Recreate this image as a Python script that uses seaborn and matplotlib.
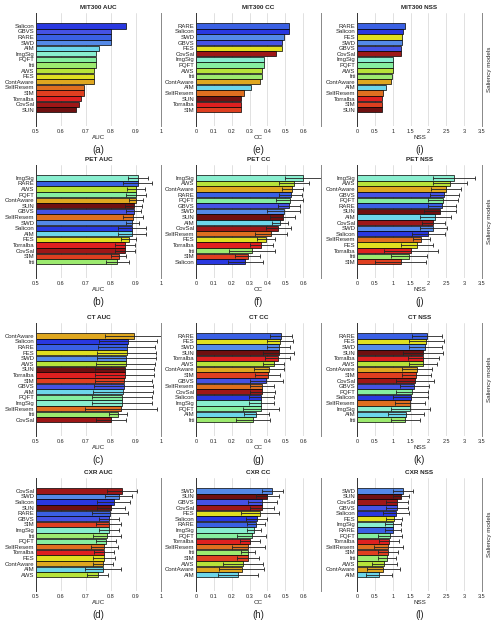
import numpy as np
import matplotlib
matplotlib.use('Agg')
from matplotlib import pyplot as plt
import seaborn as sns

sns.set_style('white')
plt.rcParams['font.family'] = ['Liberation Sans', 'DejaVu Sans']

# model colours (jet-like)
model_colors = {
    'SUN': '#7f0000', 'CovSal': '#b40000', 'Torralba': '#ff0000', 'SIM': '#ff2a00',
    'SelfResem': '#ff6a00', 'ContAware': '#ffb400', 'FES': '#ffff00', 'AWS': '#c4ff1e',
    'Itti': '#96ff5a', 'PQFT': '#74ff98', 'ImgSig': '#78ffd6', 'AIM': '#58e4ff',
    'SWD': '#3c82ff', 'RARE': '#1e50ff', 'GBVS': '#2a3cff', 'Salicon': '#0a1eff',
}

# ---- MIT300 ----
mit_auc_names = ['Salicon', 'GBVS', 'RARE', 'SWD', 'AIM', 'ImgSig', 'PQFT', 'Itti', 'AWS', 'FES',
                 'ContAware', 'SelfResem', 'SIM', 'Torralba', 'CovSal', 'SUN']
mit_auc_vals = [0.86, 0.80, 0.80, 0.80, 0.75, 0.74, 0.74, 0.74, 0.73, 0.73, 0.73, 0.69, 0.69, 0.68, 0.67, 0.66]

mit_cc_names = ['RARE', 'Salicon', 'SWD', 'GBVS', 'FES', 'CovSal', 'ImgSig', 'PQFT', 'AWS', 'Itti',
                'ContAware', 'AIM', 'SelfResem', 'SUN', 'Torralba', 'SIM']
mit_cc_vals = [0.52, 0.52, 0.49, 0.48, 0.48, 0.45, 0.38, 0.38, 0.37, 0.37, 0.36, 0.31, 0.27, 0.25, 0.25, 0.25]

mit_nss_names = ['RARE', 'Salicon', 'FES', 'SWD', 'GBVS', 'CovSal', 'ImgSig', 'PQFT', 'AWS', 'Itti',
                 'ContAware', 'AIM', 'SelfResem', 'Torralba', 'SIM', 'SUN']
mit_nss_vals = [1.34, 1.29, 1.27, 1.27, 1.24, 1.22, 1.00, 1.00, 1.00, 0.97, 0.94, 0.80, 0.73, 0.69, 0.69, 0.69]

# ---- PET ----
pet_auc_names = ['ImgSig', 'RARE', 'AWS', 'PQFT', 'ContAware', 'SUN', 'GBVS', 'SelfResem', 'SWD', 'Salicon',
                 'AIM', 'FES', 'Torralba', 'CovSal', 'SIM', 'Itti']
pet_auc_vals = [0.907, 0.906, 0.90, 0.90, 0.898, 0.89, 0.89, 0.887, 0.885, 0.883, 0.883, 0.87, 0.857, 0.855, 0.83, 0.825]
pet_auc_err = [0.04, 0.057, 0.035, 0.04, 0.028, 0.035, 0.03, 0.04, 0.025, 0.055, 0.055, 0.03, 0.04, 0.04, 0.03, 0.045]

pet_cc_names = ['ImgSig', 'AWS', 'ContAware', 'RARE', 'PQFT', 'GBVS', 'SWD', 'SUN', 'AIM', 'CovSal',
                'SelfResem', 'FES', 'Torralba', 'Itti', 'SIM', 'Salicon']
pet_cc_vals = [0.60, 0.55, 0.54, 0.53, 0.525, 0.52, 0.49, 0.485, 0.47, 0.46, 0.42, 0.39, 0.365, 0.315, 0.29, 0.277]
pet_cc_err = [0.10, 0.085, 0.06, 0.065, 0.075, 0.06, 0.09, 0.07, 0.045, 0.07, 0.087, 0.05, 0.065, 0.13, 0.07, 0.097]

pet_nss_names = ['ImgSig', 'AWS', 'ContAware', 'GBVS', 'PQFT', 'RARE', 'SUN', 'AIM', 'CovSal', 'SWD',
                 'Salicon', 'SelfResem', 'FES', 'Torralba', 'Itti', 'SIM']
pet_nss_vals = [2.72, 2.60, 2.50, 2.44, 2.41, 2.38, 2.32, 2.19, 2.14, 2.14, 1.99, 1.80, 1.68, 1.52, 1.46, 1.22]
pet_nss_err = [0.58, 0.47, 0.42, 0.41, 0.43, 0.38, 0.44, 0.44, 0.31, 0.37, 0.46, 0.23, 0.46, 0.76, 0.51, 0.71]

# ---- CT ----
ct_auc_names = ['ContAware', 'Salicon', 'RARE', 'FES', 'SWD', 'AWS', 'SUN', 'Torralba', 'SIM', 'GBVS',
                'AIM', 'PQFT', 'ImgSig', 'SelfResem', 'Itti', 'CovSal']
ct_auc_vals = [0.89, 0.868, 0.862, 0.862, 0.86, 0.858, 0.855, 0.855, 0.85, 0.85, 0.848, 0.845, 0.845, 0.84, 0.828, 0.80]
ct_auc_err = [0.115, 0.115, 0.115, 0.118, 0.118, 0.117, 0.118, 0.118, 0.115, 0.117, 0.12, 0.12, 0.12, 0.145, 0.035, 0.06]

ct_cc_names = ['RARE', 'FES', 'SWD', 'SUN', 'Torralba', 'AWS', 'ContAware', 'SIM', 'GBVS', 'SelfResem',
               'CovSal', 'Salicon', 'ImgSig', 'PQFT', 'AIM', 'Itti']
ct_cc_vals = [0.475, 0.47, 0.463, 0.462, 0.457, 0.435, 0.407, 0.403, 0.393, 0.37, 0.37, 0.364, 0.364, 0.364, 0.338, 0.32]
ct_cc_err = [0.063, 0.072, 0.065, 0.087, 0.068, 0.058, 0.085, 0.07, 0.093, 0.065, 0.07, 0.07, 0.07, 0.10, 0.07, 0.097]

ct_nss_names = ['RARE', 'FES', 'SWD', 'SUN', 'Torralba', 'AWS', 'ContAware', 'SIM', 'CovSal', 'GBVS',
                'PQFT', 'Salicon', 'SelfResem', 'ImgSig', 'AIM', 'Itti']
ct_nss_vals = [1.96, 1.94, 1.91, 1.86, 1.86, 1.85, 1.68, 1.66, 1.63, 1.60, 1.54, 1.51, 1.49, 1.49, 1.38, 1.35]
ct_nss_err = [0.41, 0.49, 0.46, 0.56, 0.44, 0.40, 0.42, 0.41, 0.53, 0.41, 0.46, 0.49, 0.42, 0.54, 0.50, 0.40]

# ---- CXR ----
cxr_auc_names = ['CovSal', 'SWD', 'Salicon', 'SUN', 'RARE', 'GBVS', 'SIM', 'ImgSig', 'Itti', 'PQFT',
                 'SelfResem', 'Torralba', 'FES', 'ContAware', 'AIM', 'AWS']
cxr_auc_vals = [0.845, 0.83, 0.81, 0.80, 0.797, 0.79, 0.79, 0.79, 0.785, 0.78, 0.773, 0.77, 0.77, 0.768, 0.767, 0.746]
cxr_auc_err = [0.06, 0.053, 0.066, 0.055, 0.072, 0.04, 0.05, 0.04, 0.056, 0.04, 0.055, 0.04, 0.044, 0.04, 0.073, 0.042]

cxr_cc_names = ['SWD', 'SUN', 'GBVS', 'CovSal', 'FES', 'Salicon', 'RARE', 'ImgSig', 'PQFT', 'Torralba',
                'SelfResem', 'Itti', 'SIM', 'AWS', 'ContAware', 'AIM']
cxr_cc_vals = [0.428, 0.40, 0.372, 0.368, 0.358, 0.34, 0.334, 0.325, 0.312, 0.30, 0.293, 0.293, 0.29, 0.263, 0.255, 0.235]
cxr_cc_err = [0.06, 0.062, 0.08, 0.068, 0.108, 0.06, 0.05, 0.04, 0.08, 0.056, 0.094, 0.04, 0.06, 0.11, 0.127, 0.11]

cxr_nss_names = ['SWD', 'SUN', 'CovSal', 'GBVS', 'Salicon', 'FES', 'ImgSig', 'RARE', 'PQFT', 'Torralba',
                 'SelfResem', 'SIM', 'Itti', 'AWS', 'ContAware', 'AIM']
cxr_nss_vals = [1.29, 1.23, 1.12, 1.12, 1.09, 1.04, 1.00, 1.00, 0.93, 0.90, 0.88, 0.87, 0.84, 0.76, 0.74, 0.62]
cxr_nss_err = [0.28, 0.23, 0.30, 0.32, 0.36, 0.23, 0.23, 0.23, 0.33, 0.28, 0.40, 0.27, 0.24, 0.35, 0.45, 0.37]

datasets = ['MIT300', 'PET', 'CT', 'CXR']
metrics = ['AUC', 'CC', 'NSS']
panels = {
    ('MIT300', 'AUC'): (mit_auc_names, mit_auc_vals, None),
    ('MIT300', 'CC'): (mit_cc_names, mit_cc_vals, None),
    ('MIT300', 'NSS'): (mit_nss_names, mit_nss_vals, None),
    ('PET', 'AUC'): (pet_auc_names, pet_auc_vals, pet_auc_err),
    ('PET', 'CC'): (pet_cc_names, pet_cc_vals, pet_cc_err),
    ('PET', 'NSS'): (pet_nss_names, pet_nss_vals, pet_nss_err),
    ('CT', 'AUC'): (ct_auc_names, ct_auc_vals, ct_auc_err),
    ('CT', 'CC'): (ct_cc_names, ct_cc_vals, ct_cc_err),
    ('CT', 'NSS'): (ct_nss_names, ct_nss_vals, ct_nss_err),
    ('CXR', 'AUC'): (cxr_auc_names, cxr_auc_vals, cxr_auc_err),
    ('CXR', 'CC'): (cxr_cc_names, cxr_cc_vals, cxr_cc_err),
    ('CXR', 'NSS'): (cxr_nss_names, cxr_nss_vals, cxr_nss_err),
}
xlims = {'AUC': (0.5, 1.0), 'CC': (0, 0.7), 'NSS': (0, 3.5)}
xticks = {'AUC': [0.5, 0.6, 0.7, 0.8, 0.9, 1], 'CC': [0, 0.1, 0.2, 0.3, 0.4, 0.5, 0.6],
          'NSS': [0, 0.5, 1, 1.5, 2, 2.5, 3, 3.5]}
letters = 'abcdefghijkl'

W, H = 494, 621
fig = plt.figure(figsize=(W / 100, H / 100), dpi=100)

row_top = [13, 165, 323, 478]
row_h = 113
col_left = [36, 196, 357]
col_w = 125

for r, ds in enumerate(datasets):
    for c, met in enumerate(metrics):
        names, vals, errs = panels[(ds, met)]
        ax = fig.add_axes([col_left[c] / W, 1 - (row_top[r] + row_h) / H, col_w / W, row_h / H])
        sns.barplot(x=vals, y=names, hue=names, palette=model_colors, orient='h', width=0.95,
                    edgecolor='black', linewidth=0.5, legend=False, ax=ax)
        if errs is not None:
            ax.errorbar(vals, np.arange(len(vals)), xerr=errs, fmt='none', ecolor='#222222',
                        elinewidth=0.6, capsize=1.6, capthick=0.6)
        ax.set_xlim(*xlims[met])
        ax.set_ylim(17.9, -2.3)
        ax.set_xticks(xticks[met])
        ax.set_xticklabels([('%g' % t) for t in xticks[met]], fontsize=4)
        ax.tick_params(axis='y', labelsize=4.3, length=0, pad=1)
        ax.tick_params(axis='x', length=0, pad=2)
        ax.grid(axis='x', color='#dcdcdc', lw=0.6)
        ax.set_axisbelow(True)
        for s in ['top', 'bottom']:
            ax.spines[s].set_visible(False)
        ax.spines['left'].set_color('#333333')
        ax.spines['left'].set_linewidth(0.7)
        ax.spines['right'].set_color('#888888')
        ax.spines['right'].set_linewidth(0.7)
        ax.set_ylabel('')
        ax.set_xlabel(met, fontsize=4.5, labelpad=1)
        ax.set_title(ds + ' ' + met, fontsize=4.6, fontweight='bold', pad=3)
        ax.text(0.5, -0.17, '(%s)' % letters[c * 4 + r], transform=ax.transAxes,
                ha='center', va='top', fontsize=7)
        if c == 2:
            ax.text(1.04, 0.5, 'Saliency models', rotation=90, transform=ax.transAxes,
                    ha='left', va='center', fontsize=4.5)

fig.savefig('out.png', dpi=100)
